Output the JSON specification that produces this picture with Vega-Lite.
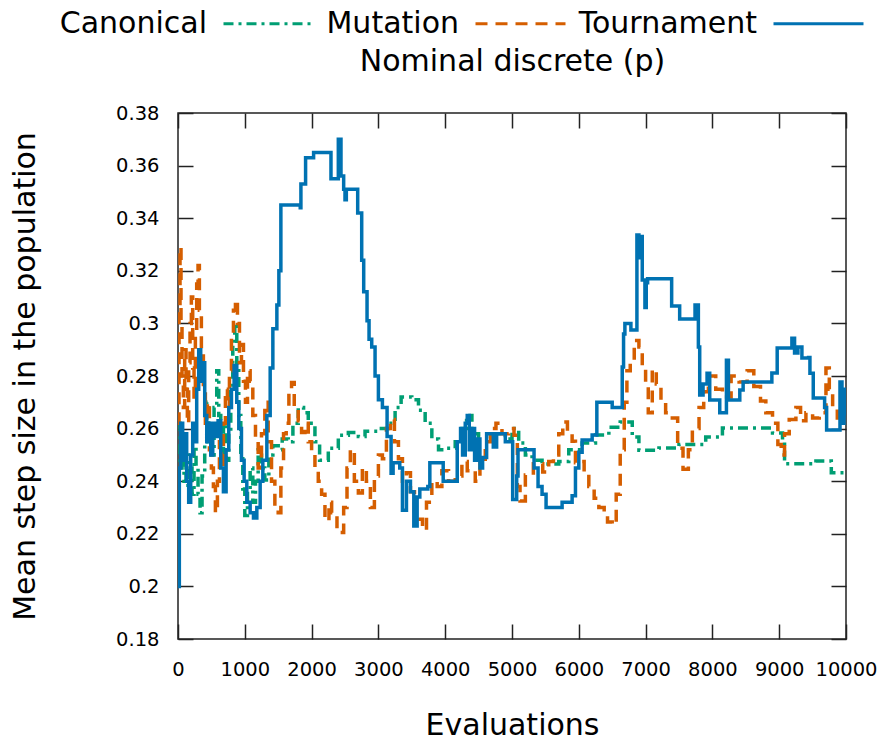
{
  "$schema": "https://vega.github.io/schema/vega-lite/v6.json",
  "width": 668,
  "height": 526,
  "autosize": {"type": "none"},
  "padding": {"left": 178, "top": 113, "right": 35, "bottom": 102},
  "background": "white",
  "config": {
    "view": {"stroke": "#222", "strokeWidth": 1.5},
    "font": "DejaVu Sans",
    "axis": {
      "domain": false,
      "grid": false,
      "tickColor": "#222",
      "tickWidth": 1.5,
      "tickSize": -15,
      "labelFont": "DejaVu Sans",
      "labelFontSize": 19.5,
      "labelColor": "#000",
      "labelOverlap": false,
      "labelFlush": false,
      "titleFont": "DejaVu Sans",
      "titleFontSize": 30,
      "titleFontWeight": "normal",
      "titleColor": "#000"
    }
  },
  "data": {
    "values": [
      {"series": "Canonical", "evals": 0, "step": 0.262},
      {"series": "Canonical", "evals": 30, "step": 0.245},
      {"series": "Canonical", "evals": 60, "step": 0.255},
      {"series": "Canonical", "evals": 90, "step": 0.240},
      {"series": "Canonical", "evals": 120, "step": 0.250},
      {"series": "Canonical", "evals": 150, "step": 0.236},
      {"series": "Canonical", "evals": 180, "step": 0.245},
      {"series": "Canonical", "evals": 210, "step": 0.235},
      {"series": "Canonical", "evals": 240, "step": 0.262},
      {"series": "Canonical", "evals": 270, "step": 0.245},
      {"series": "Canonical", "evals": 300, "step": 0.235},
      {"series": "Canonical", "evals": 330, "step": 0.228},
      {"series": "Canonical", "evals": 360, "step": 0.242},
      {"series": "Canonical", "evals": 400, "step": 0.255},
      {"series": "Canonical", "evals": 430, "step": 0.270},
      {"series": "Canonical", "evals": 460, "step": 0.262},
      {"series": "Canonical", "evals": 500, "step": 0.250},
      {"series": "Canonical", "evals": 540, "step": 0.268},
      {"series": "Canonical", "evals": 580, "step": 0.282},
      {"series": "Canonical", "evals": 610, "step": 0.265},
      {"series": "Canonical", "evals": 640, "step": 0.250},
      {"series": "Canonical", "evals": 680, "step": 0.262},
      {"series": "Canonical", "evals": 720, "step": 0.248},
      {"series": "Canonical", "evals": 760, "step": 0.258},
      {"series": "Canonical", "evals": 790, "step": 0.275},
      {"series": "Canonical", "evals": 820, "step": 0.292},
      {"series": "Canonical", "evals": 850, "step": 0.300},
      {"series": "Canonical", "evals": 880, "step": 0.285},
      {"series": "Canonical", "evals": 910, "step": 0.265},
      {"series": "Canonical", "evals": 940, "step": 0.250},
      {"series": "Canonical", "evals": 970, "step": 0.237},
      {"series": "Canonical", "evals": 1000, "step": 0.227},
      {"series": "Canonical", "evals": 1040, "step": 0.236},
      {"series": "Canonical", "evals": 1080, "step": 0.245},
      {"series": "Canonical", "evals": 1120, "step": 0.232},
      {"series": "Canonical", "evals": 1160, "step": 0.240},
      {"series": "Canonical", "evals": 1200, "step": 0.252},
      {"series": "Canonical", "evals": 1250, "step": 0.245},
      {"series": "Canonical", "evals": 1300, "step": 0.2405},
      {"series": "Canonical", "evals": 1360, "step": 0.250},
      {"series": "Canonical", "evals": 1420, "step": 0.2535},
      {"series": "Canonical", "evals": 1500, "step": 0.252},
      {"series": "Canonical", "evals": 1560, "step": 0.256},
      {"series": "Canonical", "evals": 1650, "step": 0.255},
      {"series": "Canonical", "evals": 1720, "step": 0.262},
      {"series": "Canonical", "evals": 1800, "step": 0.268},
      {"series": "Canonical", "evals": 1880, "step": 0.266},
      {"series": "Canonical", "evals": 1950, "step": 0.262},
      {"series": "Canonical", "evals": 2050, "step": 0.255},
      {"series": "Canonical", "evals": 2120, "step": 0.248},
      {"series": "Canonical", "evals": 2250, "step": 0.2525},
      {"series": "Canonical", "evals": 2400, "step": 0.2575},
      {"series": "Canonical", "evals": 2550, "step": 0.2585},
      {"series": "Canonical", "evals": 2700, "step": 0.257},
      {"series": "Canonical", "evals": 2800, "step": 0.259},
      {"series": "Canonical", "evals": 3000, "step": 0.260},
      {"series": "Canonical", "evals": 3150, "step": 0.262},
      {"series": "Canonical", "evals": 3250, "step": 0.268},
      {"series": "Canonical", "evals": 3340, "step": 0.272},
      {"series": "Canonical", "evals": 3500, "step": 0.271},
      {"series": "Canonical", "evals": 3600, "step": 0.267},
      {"series": "Canonical", "evals": 3700, "step": 0.262},
      {"series": "Canonical", "evals": 3800, "step": 0.256},
      {"series": "Canonical", "evals": 3900, "step": 0.252},
      {"series": "Canonical", "evals": 4000, "step": 0.2525},
      {"series": "Canonical", "evals": 4150, "step": 0.255},
      {"series": "Canonical", "evals": 4250, "step": 0.260},
      {"series": "Canonical", "evals": 4320, "step": 0.265},
      {"series": "Canonical", "evals": 4400, "step": 0.258},
      {"series": "Canonical", "evals": 4500, "step": 0.257},
      {"series": "Canonical", "evals": 4700, "step": 0.258},
      {"series": "Canonical", "evals": 4900, "step": 0.256},
      {"series": "Canonical", "evals": 5000, "step": 0.260},
      {"series": "Canonical", "evals": 5100, "step": 0.2545},
      {"series": "Canonical", "evals": 5200, "step": 0.250},
      {"series": "Canonical", "evals": 5300, "step": 0.248},
      {"series": "Canonical", "evals": 5450, "step": 0.2465},
      {"series": "Canonical", "evals": 5700, "step": 0.2475},
      {"series": "Canonical", "evals": 5850, "step": 0.252},
      {"series": "Canonical", "evals": 6050, "step": 0.2545},
      {"series": "Canonical", "evals": 6250, "step": 0.2576},
      {"series": "Canonical", "evals": 6450, "step": 0.2605},
      {"series": "Canonical", "evals": 6620, "step": 0.2625},
      {"series": "Canonical", "evals": 6800, "step": 0.2568},
      {"series": "Canonical", "evals": 6900, "step": 0.2518},
      {"series": "Canonical", "evals": 7200, "step": 0.2526},
      {"series": "Canonical", "evals": 7500, "step": 0.254},
      {"series": "Canonical", "evals": 7900, "step": 0.2568},
      {"series": "Canonical", "evals": 8150, "step": 0.2602},
      {"series": "Canonical", "evals": 8900, "step": 0.2583},
      {"series": "Canonical", "evals": 9050, "step": 0.2565},
      {"series": "Canonical", "evals": 9080, "step": 0.2466},
      {"series": "Canonical", "evals": 9450, "step": 0.2466},
      {"series": "Canonical", "evals": 9550, "step": 0.2477},
      {"series": "Canonical", "evals": 9750, "step": 0.2477},
      {"series": "Canonical", "evals": 9780, "step": 0.2432},
      {"series": "Canonical", "evals": 10000, "step": 0.2432},

      {"series": "Mutation", "evals": 0, "step": 0.262},
      {"series": "Mutation", "evals": 15, "step": 0.305},
      {"series": "Mutation", "evals": 30, "step": 0.329},
      {"series": "Mutation", "evals": 45, "step": 0.300},
      {"series": "Mutation", "evals": 60, "step": 0.280},
      {"series": "Mutation", "evals": 80, "step": 0.268},
      {"series": "Mutation", "evals": 100, "step": 0.290},
      {"series": "Mutation", "evals": 120, "step": 0.275},
      {"series": "Mutation", "evals": 140, "step": 0.262},
      {"series": "Mutation", "evals": 160, "step": 0.285},
      {"series": "Mutation", "evals": 180, "step": 0.300},
      {"series": "Mutation", "evals": 200, "step": 0.310},
      {"series": "Mutation", "evals": 220, "step": 0.283},
      {"series": "Mutation", "evals": 240, "step": 0.272},
      {"series": "Mutation", "evals": 260, "step": 0.295},
      {"series": "Mutation", "evals": 280, "step": 0.315},
      {"series": "Mutation", "evals": 300, "step": 0.322},
      {"series": "Mutation", "evals": 320, "step": 0.305},
      {"series": "Mutation", "evals": 350, "step": 0.290},
      {"series": "Mutation", "evals": 380, "step": 0.275},
      {"series": "Mutation", "evals": 410, "step": 0.262},
      {"series": "Mutation", "evals": 440, "step": 0.270},
      {"series": "Mutation", "evals": 470, "step": 0.252},
      {"series": "Mutation", "evals": 500, "step": 0.245},
      {"series": "Mutation", "evals": 530, "step": 0.238},
      {"series": "Mutation", "evals": 560, "step": 0.228},
      {"series": "Mutation", "evals": 590, "step": 0.240},
      {"series": "Mutation", "evals": 620, "step": 0.255},
      {"series": "Mutation", "evals": 650, "step": 0.245},
      {"series": "Mutation", "evals": 680, "step": 0.262},
      {"series": "Mutation", "evals": 710, "step": 0.275},
      {"series": "Mutation", "evals": 740, "step": 0.268},
      {"series": "Mutation", "evals": 770, "step": 0.282},
      {"series": "Mutation", "evals": 800, "step": 0.295},
      {"series": "Mutation", "evals": 830, "step": 0.305},
      {"series": "Mutation", "evals": 860, "step": 0.309},
      {"series": "Mutation", "evals": 890, "step": 0.300},
      {"series": "Mutation", "evals": 920, "step": 0.285},
      {"series": "Mutation", "evals": 950, "step": 0.292},
      {"series": "Mutation", "evals": 980, "step": 0.278},
      {"series": "Mutation", "evals": 1010, "step": 0.270},
      {"series": "Mutation", "evals": 1040, "step": 0.282},
      {"series": "Mutation", "evals": 1080, "step": 0.278},
      {"series": "Mutation", "evals": 1120, "step": 0.265},
      {"series": "Mutation", "evals": 1160, "step": 0.255},
      {"series": "Mutation", "evals": 1200, "step": 0.245},
      {"series": "Mutation", "evals": 1250, "step": 0.258},
      {"series": "Mutation", "evals": 1300, "step": 0.270},
      {"series": "Mutation", "evals": 1350, "step": 0.255},
      {"series": "Mutation", "evals": 1400, "step": 0.240},
      {"series": "Mutation", "evals": 1450, "step": 0.230},
      {"series": "Mutation", "evals": 1500, "step": 0.228},
      {"series": "Mutation", "evals": 1540, "step": 0.245},
      {"series": "Mutation", "evals": 1580, "step": 0.258},
      {"series": "Mutation", "evals": 1620, "step": 0.262},
      {"series": "Mutation", "evals": 1660, "step": 0.275},
      {"series": "Mutation", "evals": 1700, "step": 0.2775},
      {"series": "Mutation", "evals": 1740, "step": 0.268},
      {"series": "Mutation", "evals": 1800, "step": 0.263},
      {"series": "Mutation", "evals": 1850, "step": 0.2585},
      {"series": "Mutation", "evals": 1900, "step": 0.262},
      {"series": "Mutation", "evals": 1950, "step": 0.255},
      {"series": "Mutation", "evals": 2000, "step": 0.250},
      {"series": "Mutation", "evals": 2050, "step": 0.245},
      {"series": "Mutation", "evals": 2100, "step": 0.240},
      {"series": "Mutation", "evals": 2150, "step": 0.235},
      {"series": "Mutation", "evals": 2200, "step": 0.225},
      {"series": "Mutation", "evals": 2260, "step": 0.232},
      {"series": "Mutation", "evals": 2300, "step": 0.228},
      {"series": "Mutation", "evals": 2380, "step": 0.222},
      {"series": "Mutation", "evals": 2430, "step": 0.2205},
      {"series": "Mutation", "evals": 2480, "step": 0.230},
      {"series": "Mutation", "evals": 2530, "step": 0.245},
      {"series": "Mutation", "evals": 2580, "step": 0.252},
      {"series": "Mutation", "evals": 2640, "step": 0.240},
      {"series": "Mutation", "evals": 2700, "step": 0.2355},
      {"series": "Mutation", "evals": 2760, "step": 0.245},
      {"series": "Mutation", "evals": 2820, "step": 0.240},
      {"series": "Mutation", "evals": 2880, "step": 0.230},
      {"series": "Mutation", "evals": 2940, "step": 0.242},
      {"series": "Mutation", "evals": 3000, "step": 0.250},
      {"series": "Mutation", "evals": 3060, "step": 0.2485},
      {"series": "Mutation", "evals": 3120, "step": 0.260},
      {"series": "Mutation", "evals": 3180, "step": 0.2635},
      {"series": "Mutation", "evals": 3240, "step": 0.255},
      {"series": "Mutation", "evals": 3300, "step": 0.2485},
      {"series": "Mutation", "evals": 3360, "step": 0.240},
      {"series": "Mutation", "evals": 3420, "step": 0.2432},
      {"series": "Mutation", "evals": 3480, "step": 0.236},
      {"series": "Mutation", "evals": 3540, "step": 0.2285},
      {"series": "Mutation", "evals": 3600, "step": 0.2255},
      {"series": "Mutation", "evals": 3660, "step": 0.2215},
      {"series": "Mutation", "evals": 3720, "step": 0.232},
      {"series": "Mutation", "evals": 3800, "step": 0.240},
      {"series": "Mutation", "evals": 3880, "step": 0.238},
      {"series": "Mutation", "evals": 3950, "step": 0.244},
      {"series": "Mutation", "evals": 4050, "step": 0.240},
      {"series": "Mutation", "evals": 4150, "step": 0.242},
      {"series": "Mutation", "evals": 4250, "step": 0.2475},
      {"series": "Mutation", "evals": 4330, "step": 0.244},
      {"series": "Mutation", "evals": 4400, "step": 0.2443},
      {"series": "Mutation", "evals": 4450, "step": 0.240},
      {"series": "Mutation", "evals": 4520, "step": 0.2466},
      {"series": "Mutation", "evals": 4600, "step": 0.255},
      {"series": "Mutation", "evals": 4680, "step": 0.260},
      {"series": "Mutation", "evals": 4760, "step": 0.262},
      {"series": "Mutation", "evals": 4850, "step": 0.258},
      {"series": "Mutation", "evals": 4950, "step": 0.260},
      {"series": "Mutation", "evals": 5030, "step": 0.2575},
      {"series": "Mutation", "evals": 5080, "step": 0.238},
      {"series": "Mutation", "evals": 5120, "step": 0.2325},
      {"series": "Mutation", "evals": 5200, "step": 0.2424},
      {"series": "Mutation", "evals": 5320, "step": 0.2466},
      {"series": "Mutation", "evals": 5460, "step": 0.2435},
      {"series": "Mutation", "evals": 5550, "step": 0.2475},
      {"series": "Mutation", "evals": 5620, "step": 0.250},
      {"series": "Mutation", "evals": 5700, "step": 0.258},
      {"series": "Mutation", "evals": 5760, "step": 0.2625},
      {"series": "Mutation", "evals": 5830, "step": 0.2585},
      {"series": "Mutation", "evals": 5900, "step": 0.2552},
      {"series": "Mutation", "evals": 5950, "step": 0.247},
      {"series": "Mutation", "evals": 6000, "step": 0.2475},
      {"series": "Mutation", "evals": 6080, "step": 0.2425},
      {"series": "Mutation", "evals": 6150, "step": 0.238},
      {"series": "Mutation", "evals": 6230, "step": 0.2335},
      {"series": "Mutation", "evals": 6300, "step": 0.230},
      {"series": "Mutation", "evals": 6380, "step": 0.227},
      {"series": "Mutation", "evals": 6430, "step": 0.2245},
      {"series": "Mutation", "evals": 6500, "step": 0.2235},
      {"series": "Mutation", "evals": 6560, "step": 0.235},
      {"series": "Mutation", "evals": 6620, "step": 0.252},
      {"series": "Mutation", "evals": 6680, "step": 0.270},
      {"series": "Mutation", "evals": 6720, "step": 0.282},
      {"series": "Mutation", "evals": 6770, "step": 0.2855},
      {"series": "Mutation", "evals": 6830, "step": 0.2935},
      {"series": "Mutation", "evals": 6900, "step": 0.291},
      {"series": "Mutation", "evals": 6950, "step": 0.283},
      {"series": "Mutation", "evals": 7000, "step": 0.276},
      {"series": "Mutation", "evals": 7040, "step": 0.266},
      {"series": "Mutation", "evals": 7100, "step": 0.2825},
      {"series": "Mutation", "evals": 7160, "step": 0.277},
      {"series": "Mutation", "evals": 7230, "step": 0.2705},
      {"series": "Mutation", "evals": 7300, "step": 0.266},
      {"series": "Mutation", "evals": 7400, "step": 0.264},
      {"series": "Mutation", "evals": 7480, "step": 0.2525},
      {"series": "Mutation", "evals": 7560, "step": 0.2445},
      {"series": "Mutation", "evals": 7640, "step": 0.252},
      {"series": "Mutation", "evals": 7700, "step": 0.260},
      {"series": "Mutation", "evals": 7800, "step": 0.268},
      {"series": "Mutation", "evals": 7870, "step": 0.274},
      {"series": "Mutation", "evals": 7940, "step": 0.280},
      {"series": "Mutation", "evals": 8050, "step": 0.275},
      {"series": "Mutation", "evals": 8150, "step": 0.272},
      {"series": "Mutation", "evals": 8280, "step": 0.280},
      {"series": "Mutation", "evals": 8400, "step": 0.2777},
      {"series": "Mutation", "evals": 8520, "step": 0.282},
      {"series": "Mutation", "evals": 8620, "step": 0.276},
      {"series": "Mutation", "evals": 8720, "step": 0.2705},
      {"series": "Mutation", "evals": 8800, "step": 0.266},
      {"series": "Mutation", "evals": 8900, "step": 0.262},
      {"series": "Mutation", "evals": 8980, "step": 0.254},
      {"series": "Mutation", "evals": 9030, "step": 0.250},
      {"series": "Mutation", "evals": 9080, "step": 0.258},
      {"series": "Mutation", "evals": 9150, "step": 0.2635},
      {"series": "Mutation", "evals": 9250, "step": 0.268},
      {"series": "Mutation", "evals": 9320, "step": 0.263},
      {"series": "Mutation", "evals": 9400, "step": 0.266},
      {"series": "Mutation", "evals": 9500, "step": 0.264},
      {"series": "Mutation", "evals": 9600, "step": 0.266},
      {"series": "Mutation", "evals": 9700, "step": 0.283},
      {"series": "Mutation", "evals": 9750, "step": 0.275},
      {"series": "Mutation", "evals": 9800, "step": 0.268},
      {"series": "Mutation", "evals": 9870, "step": 0.264},
      {"series": "Mutation", "evals": 9950, "step": 0.267},
      {"series": "Mutation", "evals": 10000, "step": 0.267},

      {"series": "Tournament", "evals": 0, "step": 0.200},
      {"series": "Tournament", "evals": 20, "step": 0.245},
      {"series": "Tournament", "evals": 40, "step": 0.262},
      {"series": "Tournament", "evals": 70, "step": 0.248},
      {"series": "Tournament", "evals": 100, "step": 0.258},
      {"series": "Tournament", "evals": 130, "step": 0.240},
      {"series": "Tournament", "evals": 160, "step": 0.232},
      {"series": "Tournament", "evals": 190, "step": 0.250},
      {"series": "Tournament", "evals": 220, "step": 0.262},
      {"series": "Tournament", "evals": 250, "step": 0.255},
      {"series": "Tournament", "evals": 280, "step": 0.275},
      {"series": "Tournament", "evals": 310, "step": 0.290},
      {"series": "Tournament", "evals": 340, "step": 0.278},
      {"series": "Tournament", "evals": 370, "step": 0.285},
      {"series": "Tournament", "evals": 400, "step": 0.265},
      {"series": "Tournament", "evals": 430, "step": 0.255},
      {"series": "Tournament", "evals": 460, "step": 0.262},
      {"series": "Tournament", "evals": 490, "step": 0.250},
      {"series": "Tournament", "evals": 520, "step": 0.262},
      {"series": "Tournament", "evals": 560, "step": 0.257},
      {"series": "Tournament", "evals": 600, "step": 0.263},
      {"series": "Tournament", "evals": 640, "step": 0.245},
      {"series": "Tournament", "evals": 680, "step": 0.236},
      {"series": "Tournament", "evals": 720, "step": 0.252},
      {"series": "Tournament", "evals": 760, "step": 0.268},
      {"series": "Tournament", "evals": 800, "step": 0.275},
      {"series": "Tournament", "evals": 840, "step": 0.284},
      {"series": "Tournament", "evals": 880, "step": 0.270},
      {"series": "Tournament", "evals": 910, "step": 0.260},
      {"series": "Tournament", "evals": 950, "step": 0.248},
      {"series": "Tournament", "evals": 990, "step": 0.240},
      {"series": "Tournament", "evals": 1030, "step": 0.232},
      {"series": "Tournament", "evals": 1080, "step": 0.228},
      {"series": "Tournament", "evals": 1130, "step": 0.226},
      {"series": "Tournament", "evals": 1180, "step": 0.230},
      {"series": "Tournament", "evals": 1230, "step": 0.240},
      {"series": "Tournament", "evals": 1270, "step": 0.248},
      {"series": "Tournament", "evals": 1330, "step": 0.265},
      {"series": "Tournament", "evals": 1380, "step": 0.283},
      {"series": "Tournament", "evals": 1420, "step": 0.298},
      {"series": "Tournament", "evals": 1480, "step": 0.307},
      {"series": "Tournament", "evals": 1510, "step": 0.320},
      {"series": "Tournament", "evals": 1540, "step": 0.345},
      {"series": "Tournament", "evals": 1830, "step": 0.344},
      {"series": "Tournament", "evals": 1840, "step": 0.353},
      {"series": "Tournament", "evals": 1910, "step": 0.363},
      {"series": "Tournament", "evals": 2030, "step": 0.365},
      {"series": "Tournament", "evals": 2290, "step": 0.355},
      {"series": "Tournament", "evals": 2400, "step": 0.370},
      {"series": "Tournament", "evals": 2440, "step": 0.356},
      {"series": "Tournament", "evals": 2480, "step": 0.351},
      {"series": "Tournament", "evals": 2500, "step": 0.347},
      {"series": "Tournament", "evals": 2520, "step": 0.351},
      {"series": "Tournament", "evals": 2690, "step": 0.342},
      {"series": "Tournament", "evals": 2750, "step": 0.324},
      {"series": "Tournament", "evals": 2780, "step": 0.312},
      {"series": "Tournament", "evals": 2830, "step": 0.301},
      {"series": "Tournament", "evals": 2860, "step": 0.294},
      {"series": "Tournament", "evals": 2900, "step": 0.291},
      {"series": "Tournament", "evals": 2950, "step": 0.280},
      {"series": "Tournament", "evals": 3000, "step": 0.271},
      {"series": "Tournament", "evals": 3060, "step": 0.268},
      {"series": "Tournament", "evals": 3130, "step": 0.257},
      {"series": "Tournament", "evals": 3190, "step": 0.243},
      {"series": "Tournament", "evals": 3220, "step": 0.247},
      {"series": "Tournament", "evals": 3320, "step": 0.245},
      {"series": "Tournament", "evals": 3360, "step": 0.229},
      {"series": "Tournament", "evals": 3420, "step": 0.240},
      {"series": "Tournament", "evals": 3480, "step": 0.236},
      {"series": "Tournament", "evals": 3530, "step": 0.223},
      {"series": "Tournament", "evals": 3580, "step": 0.234},
      {"series": "Tournament", "evals": 3620, "step": 0.237},
      {"series": "Tournament", "evals": 3740, "step": 0.238},
      {"series": "Tournament", "evals": 3770, "step": 0.247},
      {"series": "Tournament", "evals": 3970, "step": 0.240},
      {"series": "Tournament", "evals": 4180, "step": 0.255},
      {"series": "Tournament", "evals": 4230, "step": 0.260},
      {"series": "Tournament", "evals": 4260, "step": 0.250},
      {"series": "Tournament", "evals": 4300, "step": 0.262},
      {"series": "Tournament", "evals": 4330, "step": 0.265},
      {"series": "Tournament", "evals": 4360, "step": 0.252},
      {"series": "Tournament", "evals": 4400, "step": 0.260},
      {"series": "Tournament", "evals": 4440, "step": 0.248},
      {"series": "Tournament", "evals": 4480, "step": 0.256},
      {"series": "Tournament", "evals": 4520, "step": 0.245},
      {"series": "Tournament", "evals": 4560, "step": 0.249},
      {"series": "Tournament", "evals": 4620, "step": 0.258},
      {"series": "Tournament", "evals": 4720, "step": 0.253},
      {"series": "Tournament", "evals": 4770, "step": 0.258},
      {"series": "Tournament", "evals": 4900, "step": 0.255},
      {"series": "Tournament", "evals": 5010, "step": 0.233},
      {"series": "Tournament", "evals": 5070, "step": 0.242},
      {"series": "Tournament", "evals": 5090, "step": 0.252},
      {"series": "Tournament", "evals": 5330, "step": 0.245},
      {"series": "Tournament", "evals": 5390, "step": 0.238},
      {"series": "Tournament", "evals": 5450, "step": 0.235},
      {"series": "Tournament", "evals": 5510, "step": 0.230},
      {"series": "Tournament", "evals": 5750, "step": 0.232},
      {"series": "Tournament", "evals": 5900, "step": 0.2345},
      {"series": "Tournament", "evals": 5950, "step": 0.245},
      {"series": "Tournament", "evals": 6000, "step": 0.251},
      {"series": "Tournament", "evals": 6050, "step": 0.2557},
      {"series": "Tournament", "evals": 6200, "step": 0.2576},
      {"series": "Tournament", "evals": 6270, "step": 0.270},
      {"series": "Tournament", "evals": 6500, "step": 0.268},
      {"series": "Tournament", "evals": 6650, "step": 0.2834},
      {"series": "Tournament", "evals": 6670, "step": 0.296},
      {"series": "Tournament", "evals": 6690, "step": 0.300},
      {"series": "Tournament", "evals": 6780, "step": 0.2975},
      {"series": "Tournament", "evals": 6870, "step": 0.3336},
      {"series": "Tournament", "evals": 6900, "step": 0.325},
      {"series": "Tournament", "evals": 6920, "step": 0.333},
      {"series": "Tournament", "evals": 6950, "step": 0.3165},
      {"series": "Tournament", "evals": 6990, "step": 0.306},
      {"series": "Tournament", "evals": 7010, "step": 0.3155},
      {"series": "Tournament", "evals": 7030, "step": 0.317},
      {"series": "Tournament", "evals": 7390, "step": 0.3066},
      {"series": "Tournament", "evals": 7510, "step": 0.3017},
      {"series": "Tournament", "evals": 7740, "step": 0.307},
      {"series": "Tournament", "evals": 7790, "step": 0.291},
      {"series": "Tournament", "evals": 7810, "step": 0.2728},
      {"series": "Tournament", "evals": 7860, "step": 0.277},
      {"series": "Tournament", "evals": 7920, "step": 0.281},
      {"series": "Tournament", "evals": 7960, "step": 0.2709},
      {"series": "Tournament", "evals": 8110, "step": 0.266},
      {"series": "Tournament", "evals": 8210, "step": 0.286},
      {"series": "Tournament", "evals": 8240, "step": 0.2709},
      {"series": "Tournament", "evals": 8410, "step": 0.2747},
      {"series": "Tournament", "evals": 8460, "step": 0.2777},
      {"series": "Tournament", "evals": 8890, "step": 0.2811},
      {"series": "Tournament", "evals": 8970, "step": 0.2906},
      {"series": "Tournament", "evals": 9190, "step": 0.2944},
      {"series": "Tournament", "evals": 9230, "step": 0.2887},
      {"series": "Tournament", "evals": 9280, "step": 0.291},
      {"series": "Tournament", "evals": 9340, "step": 0.2868},
      {"series": "Tournament", "evals": 9440, "step": 0.287},
      {"series": "Tournament", "evals": 9460, "step": 0.281},
      {"series": "Tournament", "evals": 9510, "step": 0.2716},
      {"series": "Tournament", "evals": 9680, "step": 0.268},
      {"series": "Tournament", "evals": 9710, "step": 0.2595},
      {"series": "Tournament", "evals": 9910, "step": 0.2777},
      {"series": "Tournament", "evals": 9940, "step": 0.262},
      {"series": "Tournament", "evals": 9970, "step": 0.275},
      {"series": "Tournament", "evals": 10000, "step": 0.265}
    ]
  },
  "layer": [
    {
      "mark": {"type": "line", "interpolate": "step-after", "strokeWidth": 3.5, "clip": true},
      "encoding": {
        "x": {
          "field": "evals",
          "type": "quantitative",
          "scale": {"domain": [0, 10000], "nice": false},
          "axis": {
            "title": "Evaluations",
            "values": [0, 1000, 2000, 3000, 4000, 5000, 6000, 7000, 8000, 9000, 10000],
            "format": "d",
            "labelPadding": 36,
            "titlePadding": 32
          }
        },
        "y": {
          "field": "step",
          "type": "quantitative",
          "scale": {"domain": [0.18, 0.38], "nice": false, "zero": false},
          "axis": {
            "title": "Mean step size in the population",
            "values": [0.18, 0.2, 0.22, 0.24, 0.26, 0.28, 0.3, 0.32, 0.34, 0.36, 0.38],
            "format": "~g",
            "labelPadding": 34,
            "titlePadding": 75
          }
        },
        "color": {
          "field": "series",
          "type": "nominal",
          "scale": {
            "domain": ["Canonical", "Mutation", "Tournament"],
            "range": ["#009E73", "#D55E00", "#0072B2"]
          },
          "legend": {
            "orient": "none",
            "legendX": 44,
            "legendY": -136,
            "direction": "horizontal",
            "title": null,
            "labelFont": "DejaVu Sans",
            "labelFontSize": 30,
            "labelColor": "#000",
            "labelAlign": "right",
            "labelOffset": -108,
            "labelLimit": 400,
            "symbolType": "stroke",
            "symbolSize": 8100,
            "symbolStrokeWidth": 3,
            "columnPadding": 6
          }
        },
        "strokeDash": {
          "field": "series",
          "type": "nominal",
          "scale": {
            "domain": ["Canonical", "Mutation", "Tournament"],
            "range": [[10, 5, 3, 5], [12, 8], [1, 0]]
          },
          "legend": {
            "orient": "none",
            "legendX": 44,
            "legendY": -136,
            "direction": "horizontal",
            "title": null,
            "labelFont": "DejaVu Sans",
            "labelFontSize": 30,
            "labelColor": "#000",
            "labelAlign": "right",
            "labelOffset": -108,
            "labelLimit": 400,
            "symbolType": "stroke",
            "symbolSize": 8100,
            "symbolStrokeWidth": 3,
            "columnPadding": 6
          }
        }
      }
    },
    {
      "mark": {"type": "line", "opacity": 0},
      "encoding": {
        "x": {
          "field": "evals",
          "type": "quantitative",
          "axis": {
            "orient": "top",
            "title": "Nominal discrete (p)",
            "titlePadding": 36,
            "labels": false,
            "values": [0, 1000, 2000, 3000, 4000, 5000, 6000, 7000, 8000, 9000, 10000]
          }
        },
        "y": {
          "field": "step",
          "type": "quantitative",
          "axis": {
            "orient": "right",
            "title": null,
            "labels": false,
            "values": [0.18, 0.2, 0.22, 0.24, 0.26, 0.28, 0.3, 0.32, 0.34, 0.36, 0.38]
          }
        }
      }
    }
  ],
  "resolve": {"axis": {"x": "independent", "y": "independent"}}
}
